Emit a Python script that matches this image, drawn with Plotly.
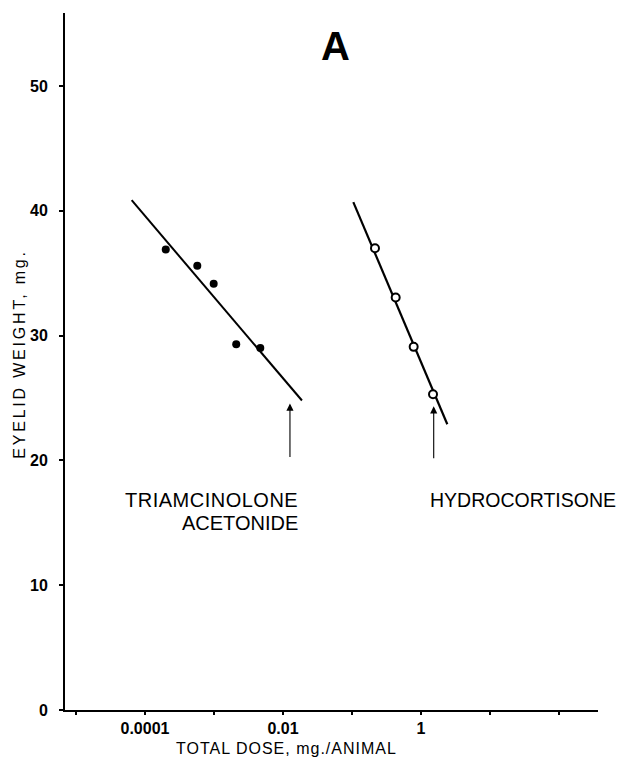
import math
import plotly.graph_objects as go

# ---- data ----
ta_dose = [2.00e-4, 5.73e-4, 9.9e-4, 2.10e-3, 4.69e-3]
ta_weight = [36.9, 35.6, 34.15, 29.3, 29.0]
ta_fit_dose = [6.41e-5, 0.01883]
ta_fit_weight = [40.85, 24.8]

hc_dose = [0.2154, 0.4296, 0.783, 1.493]
hc_weight = [37.0, 33.05, 29.1, 25.3]
hc_fit_dose = [0.1045, 2.405]
hc_fit_weight = [40.7, 22.9]

arrow_dose = [0.01262, 1.528]
arrow_base = [20.15, 20.05]
arrow_tip = [24.56, 24.34]

x_tickvals = [1e-5, 1e-4, 1e-3, 1e-2, 1e-1, 1, 10, 100]
x_ticktext = ["", "0.0001", "", "0.01", "", "1", "", ""]
y_tickvals = [0, 10, 20, 30, 40, 50]

FONT = "Liberation Sans, Arial, Helvetica, sans-serif"

fig = go.Figure()
fig.add_trace(go.Scatter(x=ta_fit_dose, y=ta_fit_weight, mode="lines",
                         line=dict(color="black", width=2), showlegend=False))
fig.add_trace(go.Scatter(x=hc_fit_dose, y=hc_fit_weight, mode="lines",
                         line=dict(color="black", width=2.2), showlegend=False))
fig.add_trace(go.Scatter(x=ta_dose, y=ta_weight, mode="markers",
                         marker=dict(color="black", size=8, symbol="circle"),
                         showlegend=False))
fig.add_trace(go.Scatter(x=hc_dose, y=hc_weight, mode="markers",
                         marker=dict(color="white", size=8, symbol="circle",
                                     line=dict(color="black", width=2)),
                         showlegend=False))

annotations = []
for d, b, t in zip(arrow_dose, arrow_base, arrow_tip):
    annotations.append(dict(x=math.log10(d), y=t, ax=math.log10(d), ay=b,
                            xref="x", yref="y", axref="x", ayref="y",
                            text="", showarrow=True, arrowhead=2, arrowsize=1.3,
                            arrowwidth=1.1, arrowcolor="black", standoff=0))

annotations += [
    dict(x=math.log10(0.01762), y=16.8, xref="x", yref="y",
         text='<span style="letter-spacing:0.5px">TRIAMCINOLONE</span>',
         showarrow=False, xanchor="right", yanchor="middle",
         font=dict(family=FONT, size=20, color="black")),
    dict(x=math.log10(0.01762), y=15.0, xref="x", yref="y", text="ACETONIDE",
         showarrow=False, xanchor="right", yanchor="middle",
         font=dict(family=FONT, size=20, color="black")),
    dict(x=math.log10(1.262), y=16.85, xref="x", yref="y", text="HYDROCORTISONE",
         showarrow=False, xanchor="left", yanchor="middle",
         font=dict(family=FONT, size=19.5, color="black")),
    dict(x=math.log10(0.0568), y=53.2, xref="x", yref="y", text="<b>A</b>",
         showarrow=False, xanchor="center", yanchor="middle",
         font=dict(family=FONT, size=40, color="black")),
    dict(x=(20 - 65) / 533, y=(710.5 - 354) / 697.5, xref="paper", yref="paper",
         text='<span style="letter-spacing:2.8px">EYELID WEIGHT, mg.</span>',
         textangle=-90, showarrow=False, xanchor="center", yanchor="middle",
         font=dict(family=FONT, size=16, color="black")),
    dict(x=(286 - 65) / 533, y=-(749 - 710.5) / 697.5, xref="paper", yref="paper",
         text='<span style="letter-spacing:1px">TOTAL DOSE, mg./ANIMAL</span>',
         showarrow=False, xanchor="center", yanchor="middle",
         font=dict(family=FONT, size=16, color="black")),
]

fig.update_layout(
    width=628, height=763,
    margin=dict(l=65, r=30, t=13, b=52.5),
    paper_bgcolor="white", plot_bgcolor="white",
    annotations=annotations,
    xaxis=dict(type="log", range=[-5.159, 2.565], tickvals=x_tickvals, ticktext=x_ticktext,
               showline=True, linecolor="black", linewidth=2, mirror=False,
               ticks="outside", ticklen=3, tickwidth=1.5, tickcolor="black",
               showgrid=False, zeroline=False, ticklabelstandoff=0,
               tickfont=dict(family=FONT, size=16, color="black", weight="bold")),
    yaxis=dict(range=[0, 55.85], tickvals=y_tickvals,
               showline=True, linecolor="black", linewidth=2, mirror=False,
               ticks="outside", ticklen=4, tickwidth=1.5, tickcolor="black",
               showgrid=False, zeroline=False, ticklabelstandoff=8,
               tickfont=dict(family=FONT, size=16, color="black", weight="bold")),
)

fig.write_html("out.html")
